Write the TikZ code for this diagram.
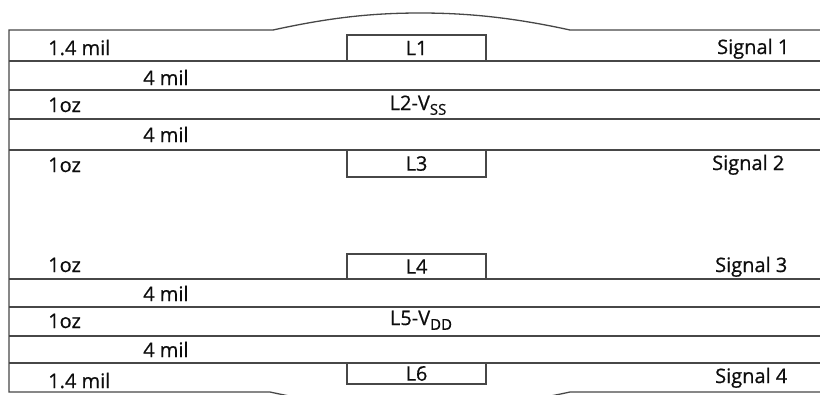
\documentclass[tikz,border=0pt]{standalone}
\usepackage{fontspec}
\setmainfont{Open Sans}[FakeBold=0.6]
\begin{document}
\begin{tikzpicture}[x=1pt,y=-1pt,
  layer/.style={draw=black!72, line width=1.3pt},
  lbl/.style={inner sep=0pt, anchor=base west, text=black!95, font=\fontsize{20}{24}\selectfont},
  clbl/.style={inner sep=0pt, anchor=base, text=black!95, font=\fontsize{20}{24}\selectfont},
  lbox/.style={draw=black!72, line width=1.3pt, inner sep=0pt, minimum width=139pt, text=black!95, font=\fontsize{20}{24}\selectfont}]
\useasboundingbox (0,0) rectangle (820,394);
\begin{scope}
\clip (0,0) rectangle (820,394);
% top surface with bump
\draw[layer] (820,30) -- (570,30) .. controls (515,18) and (470,13) .. (420,13)
   .. controls (370,13) and (328,18) .. (273,30) -- (9,30) -- (9,392) -- (270,392)
   .. controls (325,404) and (370,409) .. (420,409) .. controls (470,409) and (515,404) .. (570,392) -- (820,392);
\foreach \y in {61,90,119,150,279,307,336,363}
  \draw[layer] (9,\y) -- (820,\y);
\end{scope}
% trace boxes
\node[lbox, minimum height=26pt] (l1) at (416.5,48) {L1};
\node[lbox, minimum height=27pt] (l3) at (416.5,163.5) {L3};
\node[lbox, minimum height=25pt] (l4) at (416.5,266.5) {L4};
\node[lbox, minimum height=21pt] (l6) at (416.5,373.5) {L6};
% centre plane labels
\node[clbl] (l2) at (418,110) {L2-V\raisebox{-0.45ex}{\fontsize{15}{15}\selectfont SS}};
\node[clbl] (l5) at (421,325) {L5-V\raisebox{-0.45ex}{\fontsize{15}{15}\selectfont DD}};
% left labels
\node[lbl] (t1) at (48,55) {1.4 mil};
\node[lbl] (t2) at (143,85) {4 mil};
\node[lbl] (t3) at (48,112) {1oz};
\node[lbl] (t4) at (143,142) {4 mil};
\node[lbl] (t5) at (48,172) {1oz};
\node[lbl] (t6) at (48,272) {1oz};
\node[lbl] (t7) at (143,301) {4 mil};
\node[lbl] (t8) at (48,328) {1oz};
\node[lbl] (t9) at (143,357) {4 mil};
\node[lbl] (t10) at (48,388) {1.4 mil};
% right labels
\node[lbl] (s1) at (717,54) {Signal 1};
\node[lbl] (s2) at (712,170) {Signal 2};
\node[lbl] (s3) at (715,272) {Signal 3};
\node[lbl] (s4) at (715,383) {Signal 4};
\end{tikzpicture}
\end{document}
